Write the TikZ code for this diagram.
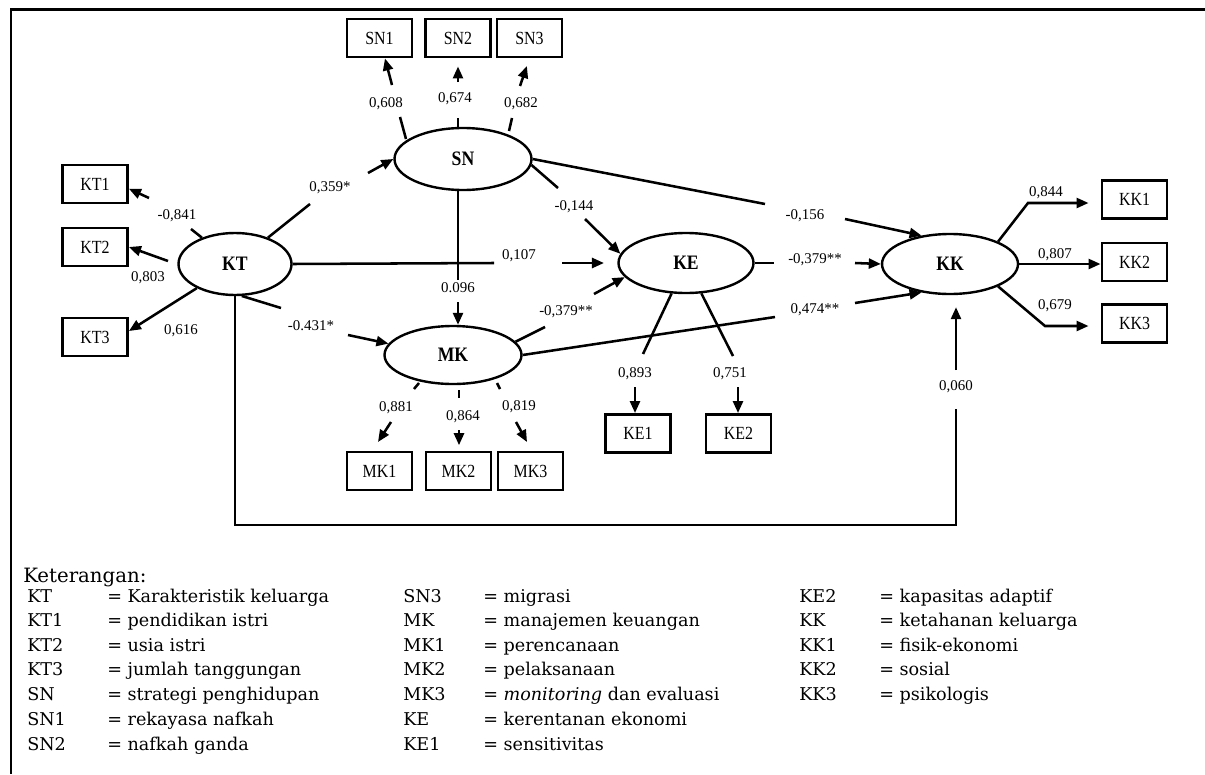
\documentclass[tikz,border=0pt]{standalone}
\usepackage{fontspec}
\setmainfont{Liberation Serif}
\newfontfamily\condfont{Liberation Serif}[FakeStretch=0.86]
\newfontfamily\legfont{DejaVu Serif}
\usetikzlibrary{arrows.meta,shapes.geometric}
\begin{document}
\begin{tikzpicture}[x=0.75pt,y=-0.75pt,
  con/.style={line width=1.9pt},
  arr/.style={line width=1.9pt,-{Triangle[length=9pt,width=7.5pt]}},
  lat/.style={ellipse,draw,line width=1.8pt,inner sep=0pt,font=\condfont\fontsize{15.4}{17}\selectfont\bfseries},
  ind/.style={draw,line width=2.2pt,minimum width=48.75pt,minimum height=28.5pt,inner sep=0pt,font=\condfont\fontsize{13.9}{16}\selectfont},
  lbl/.style={inner sep=0pt,font=\fontsize{11.2}{13}\selectfont},
  legk/.style={anchor=base west,inner sep=0pt,font=\legfont\fontsize{13.2}{15}\selectfont},
  frame/.style={line width=1.6pt}]
\useasboundingbox (0,0) rectangle (1205,774);

% frame
\coordinate (fTL) at (11,9.5);
\coordinate (fTR) at (1205,9.5);
\coordinate (fBL) at (11,774);
\draw[frame] (fTR) -- (fTL) -- (fBL);

% latent variables
\node[lat,minimum width=102.75pt,minimum height=46.5pt] (SN) at (463,159) {SN};
\node[lat,minimum width=84.75pt,minimum height=46.5pt] (KT) at (235,264) {KT};
\node[lat,minimum width=102.75pt,minimum height=43.5pt] (MK) at (453,355) {MK};
\node[lat,minimum width=101.25pt,minimum height=45pt] (KE) at (686,263) {KE};
\node[lat,minimum width=102pt,minimum height=45pt] (KK) at (950,264) {KK};

% indicators
\node[ind] (SN1) at (379.5,38) {SN1};
\node[ind] (SN2) at (458,38) {SN2};
\node[ind] (SN3) at (529.5,38) {SN3};
\node[ind] (KT1) at (95,184) {KT1};
\node[ind] (KT2) at (95,247) {KT2};
\node[ind] (KT3) at (95,337) {KT3};
\node[ind] (MK1) at (379.5,471) {MK1};
\node[ind] (MK2) at (458.5,471) {MK2};
\node[ind] (MK3) at (530.5,471) {MK3};
\node[ind] (KE1) at (638,433.5) {KE1};
\node[ind] (KE2) at (738.5,433.5) {KE2};
\node[ind] (KK1) at (1134.5,199.5) {KK1};
\node[ind] (KK2) at (1134.5,262) {KK2};
\node[ind] (KK3) at (1134.5,323.5) {KK3};

% ---- KT indicators
\coordinate (kt1a) at (191,229);
\coordinate (kt1b) at (149,198);
\draw[con] (KT) -- (kt1a);
\draw[arr] (kt1b) -- (KT1.-8);
\node[lbl] (l841) at (177,216) {-0,841};
\coordinate (kt2s) at (168,261);
\draw[arr] (kt2s) -- (KT2.east);
\node[lbl] (l803) at (148,278) {0,803};
\draw[arr] (KT) -- (KT3.10);
\node[lbl] (l616) at (181,331) {0,616};

% ---- KT -> SN
\coordinate (ktsn1) at (310,204);
\coordinate (ktsn2) at (368,173);
\draw[con] (KT) -- (ktsn1);
\draw[arr] (ktsn2) -- (SN.west);
\node[lbl] (l359) at (330,188) {0,359*};

% ---- KT -> MK
\coordinate (ktmk1) at (281,308);
\coordinate (ktmk2) at (348,335);
\draw[con] (KT.-78) -- (ktmk1);
\draw[arr] (ktmk2) -- (MK.170);
\node[lbl] (l431) at (311,326) {-0.431*};

% ---- SN -> MK
\coordinate (snmk1) at (458,280);
\coordinate (snmk2) at (458,302);
\draw[con] (SN.south -| snmk1) -- (snmk1);
\draw[arr] (snmk2) -- (snmk2 |- MK.north);
\node[lbl] (l096) at (458,288) {0.096};

% ---- KT -> KE
\coordinate (ktke1) at (494,263);
\coordinate (ktke2) at (562,263);
\draw[con] (KT.east) -- (ktke1);
\draw[arr,shorten >=10pt] (ktke2) -- (KE.west);
\node[lbl] (l107) at (519,256) {0,107};

% ---- SN -> KE
\coordinate (snke1) at (558,188);
\coordinate (snke2) at (585,219);
\draw[con] (SN.-5) -- (snke1);
\draw[arr] (snke2) -- (KE.172);
\node[lbl] (l144) at (574,207) {-0,144};

% ---- SN -> KK
\coordinate (snkk1) at (765,204);
\coordinate (snkk2) at (845,219);
\draw[con] (SN.east) -- (snkk1);
\draw[arr] (snkk2) -- (KK.135);
\node[lbl] (l156) at (805,216) {-0,156};

% ---- MK -> KE
\coordinate (mkke1) at (545,327);
\coordinate (mkke2) at (594,294);
\draw[con] (MK.12) -- (mkke1);
\draw[arr] (mkke2) -- (KE.-167);
\node[lbl] (l379a) at (566,312) {-0,379**};

% ---- MK -> KK
\coordinate (mkkk1) at (775,317);
\coordinate (mkkk2) at (855,303);
\draw[con] (MK.east) -- (mkkk1);
\draw[arr] (mkkk2) -- (KK.-135);
\node[lbl] (l474) at (815,310) {0,474**};

% ---- KE -> KK
\coordinate (kekk1) at (774,263);
\coordinate (kekk2) at (855,263);
\draw[con] (KE.east) -- (kekk1);
\draw[arr] (kekk2) -- (KK.west);
\node[lbl] (l379b) at (815,260) {-0,379**};

% ---- KE indicators
\coordinate (kee1a) at (643,354);
\coordinate (kee1b) at (635,387);
\draw[con] (KE) -- (kee1a);
\draw[arr] (kee1b) -- (kee1b |- KE1.north);
\node[lbl] (l893) at (635,374) {0,893};
\coordinate (kee2a) at (733,356);
\coordinate (kee2b) at (738,387);
\draw[con] (KE) -- (kee2a);
\draw[arr] (kee2b) -- (kee2b |- KE2.north);
\node[lbl] (l751) at (730,374) {0,751};

% ---- KK indicators
\coordinate (kkc1) at (1028,203);
\draw[arr,shorten >=9pt] (KK.25) -- (kkc1) -- (kkc1 -| KK1.west);
\node[lbl] (l844) at (1046,193) {0,844};
\draw[arr] (KK.east) -- (KK.east -| KK2.west);
\node[lbl] (l807) at (1055,255) {0,807};
\coordinate (kkc3) at (1045,326);
\draw[arr,shorten >=9pt] (KK.-25) -- (kkc3) -- (kkc3 -| KK3.west);
\node[lbl] (l679) at (1055,306) {0,679};

% ---- KT -> KK (long path)
\coordinate (kkb) at (956,525);
\coordinate (kkc) at (956,409);
\coordinate (kkd) at (956,370);
\draw[con] (KT.south) -- (KT.south |- kkb) -- (kkb) -- (kkc);
\draw[arr,shorten >=9pt] (kkd) -- (kkd |- KK.south);
\node[lbl] (l060) at (956,387) {0,060};

% ---- SN indicators
\coordinate (sn1s) at (406,139);
\coordinate (sn1a) at (400,117);
\coordinate (sn1b) at (392,85);
\draw[con] (sn1s) -- (sn1a);
\draw[arr] (sn1b) -- (SN1.-75);
\node[lbl] (l608) at (386,104) {0,608};
\coordinate (sn2a) at (458,118);
\coordinate (sn2b) at (458,82);
\draw[con] (SN.north -| sn2a) -- (sn2a);
\draw[arr,shorten >=6pt] (sn2b) -- (SN2.south);
\node[lbl] (l674) at (455,99) {0,674};
\coordinate (sn3s) at (509,131);
\coordinate (sn3a) at (512,118);
\coordinate (sn3b) at (520,86);
\draw[con] (sn3s) -- (sn3a);
\draw[arr,shorten >=6pt] (sn3b) -- (SN3.south);
\node[lbl] (l682) at (521,104) {0,682};

% ---- MK indicators
\coordinate (mk1s) at (419,383);
\coordinate (mk1a) at (414,389);
\coordinate (mk1b) at (391,422);
\coordinate (mk1t) at (378,442);
\draw[con] (mk1s) -- (mk1a);
\draw[arr] (mk1b) -- (mk1t);
\node[lbl] (l881) at (396,408) {0,881};
\coordinate (mk2s) at (459,390);
\coordinate (mk2a) at (459,398);
\coordinate (mk2b) at (459,430);
\draw[con] (mk2s) -- (mk2a);
\draw[arr,shorten >=4pt] (mk2b) -- (mk2b |- MK2.north);
\node[lbl] (l864) at (463,417) {0,864};
\coordinate (mk3s) at (497,383);
\coordinate (mk3a) at (500,389);
\coordinate (mk3b) at (516,422);
\coordinate (mk3t) at (527,442);
\draw[con] (mk3s) -- (mk3a);
\draw[arr] (mk3b) -- (mk3t);
\node[lbl] (l819) at (519,407) {0,819};

% ---- legend
\node[anchor=base west,inner sep=0pt,font=\legfont\fontsize{14.8}{17}\selectfont] (keth) at (23,582) {Keterangan:};
\node[legk] (a1) at (27,602) {KT};   \node[legk] (b1) at (107,602) {= Karakteristik keluarga};
\node[legk] (a2) at (27,626) {KT1};  \node[legk] (b2) at (107,626) {= pendidikan istri};
\node[legk] (a3) at (27,651) {KT2};  \node[legk] (b3) at (107,651) {= usia istri};
\node[legk] (a4) at (27,675) {KT3};  \node[legk] (b4) at (107,675) {= jumlah tanggungan};
\node[legk] (a5) at (27,700) {SN};   \node[legk] (b5) at (107,700) {= strategi penghidupan};
\node[legk] (a6) at (27,725) {SN1};  \node[legk] (b6) at (107,725) {= rekayasa nafkah};
\node[legk] (a7) at (27,750) {SN2};  \node[legk] (b7) at (107,750) {= nafkah ganda};
\node[legk] (c1) at (403,602) {SN3};  \node[legk] (d1) at (483,602) {= migrasi};
\node[legk] (c2) at (403,626) {MK};   \node[legk] (d2) at (483,626) {= manajemen keuangan};
\node[legk] (c3) at (403,651) {MK1};  \node[legk] (d3) at (483,651) {= perencanaan};
\node[legk] (c4) at (403,675) {MK2};  \node[legk] (d4) at (483,675) {= pelaksanaan};
\node[legk] (c5) at (403,700) {MK3};  \node[legk] (d5) at (483,700) {= {\itshape monitoring} dan evaluasi};
\node[legk] (c6) at (403,725) {KE};   \node[legk] (d6) at (483,725) {= kerentanan ekonomi};
\node[legk] (c7) at (403,750) {KE1};  \node[legk] (d7) at (483,750) {= sensitivitas};
\node[legk] (e1) at (799,602) {KE2};  \node[legk] (f1) at (879,602) {= kapasitas adaptif};
\node[legk] (e2) at (799,626) {KK};   \node[legk] (f2) at (879,626) {= ketahanan keluarga};
\node[legk] (e3) at (799,651) {KK1};  \node[legk] (f3) at (879,651) {= fisik-ekonomi};
\node[legk] (e4) at (799,675) {KK2};  \node[legk] (f4) at (879,675) {= sosial};
\node[legk] (e5) at (799,700) {KK3};  \node[legk] (f5) at (879,700) {= psikologis};
\end{tikzpicture}
\end{document}
